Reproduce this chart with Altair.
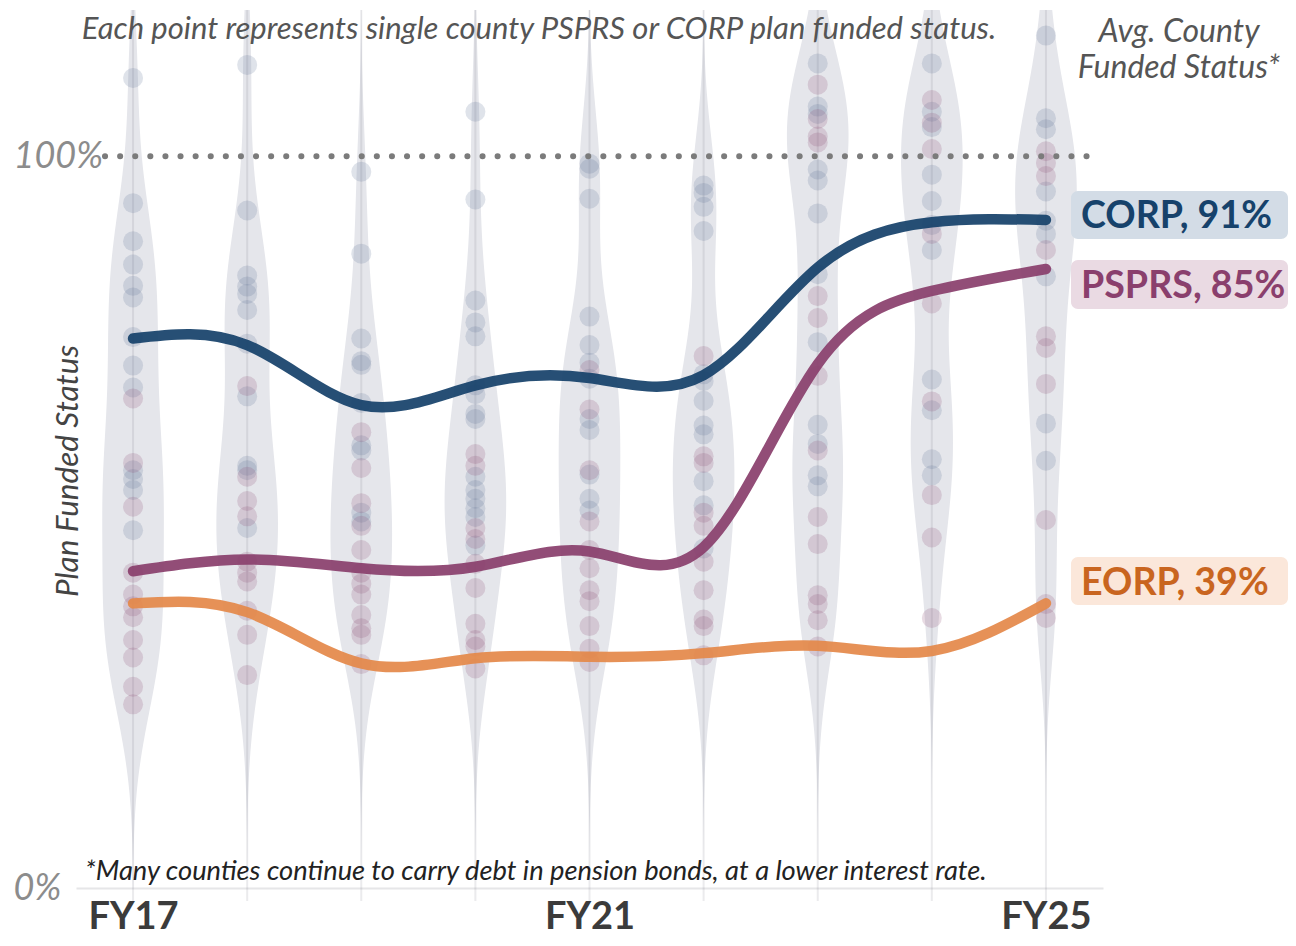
import altair as alt
import pandas as pd

years = ["FY17", "FY18", "FY19", "FY20", "FY21", "FY22", "FY23", "FY24", "FY25"]

# county plan funded status (%), one list per fiscal year
corp_points = [
    [110.7, 93.6, 88.4, 85.2, 82.3, 80.7, 75.3, 71.4, 68.4, 57.1, 55.9, 54.4, 48.9],
    [112.5, 92.6, 83.7, 82.2, 81.2, 79.0, 74.4, 67.2, 57.7, 57.1, 49.2],
    [97.9, 86.7, 75.1, 72.0, 71.5, 66.3, 60.5, 59.8, 51.3, 50.1],
    [106.1, 94.1, 80.3, 77.3, 75.4, 68.7, 67.5, 64.8, 64.1, 56.2, 54.4, 53.2, 51.9, 50.7, 46.8],
    [99.0, 98.3, 94.2, 78.1, 74.2, 71.8, 69.6, 64.1, 62.6, 56.5, 53.2, 51.6],
    [96.0, 95.0, 93.1, 89.8, 70.2, 69.3, 66.6, 63.2, 62.0, 55.6, 52.3, 46.4],
    [112.7, 106.8, 105.8, 98.2, 96.7, 92.2, 83.9, 74.6, 63.3, 60.7, 56.4, 54.9],
    [112.7, 106.1, 104.0, 97.5, 93.9, 90.6, 87.2, 69.5, 65.3, 58.6, 56.4],
    [116.5, 105.2, 103.7, 95.2, 91.2, 89.4, 83.6, 63.5, 58.4],
]
psprs_points = [
    [66.9, 58.1, 52.1, 43.1, 40.1, 38.5, 37.0, 33.9, 31.5, 27.5, 25.1],
    [68.6, 56.2, 52.9, 50.8, 44.6, 43.1, 41.9, 37.9, 34.6, 29.1],
    [62.3, 57.4, 52.6, 49.5, 46.2, 43.1, 41.6, 40.1, 37.3, 35.5, 34.6, 30.6],
    [59.3, 57.7, 49.2, 47.7, 44.3, 41.0, 36.1, 33.9, 33.0, 30.0],
    [70.8, 65.4, 57.1, 50.1, 46.2, 43.7, 40.7, 39.2, 35.8, 32.7, 30.9],
    [72.7, 59.0, 58.1, 51.3, 49.5, 44.6, 40.7, 36.7, 35.8, 31.8],
    [109.8, 105.1, 102.7, 101.9, 80.9, 77.9, 70.0, 59.8, 50.7, 47.0, 40.0, 38.8, 36.6, 33.0],
    [107.7, 104.6, 101.0, 89.4, 79.9, 66.5, 53.7, 47.9, 36.9],
    [100.7, 99.1, 97.3, 87.2, 75.4, 73.8, 68.9, 50.3, 38.8, 36.9],
]

# average county funded status (%)
corp_avg = [75.1, 74.2, 66.0, 68.7, 69.7, 70.1, 84.8, 91.0, 91.3]
psprs_avg = [43.3, 44.9, 43.7, 43.9, 46.0, 46.6, 71.6, 81.6, 84.6]
eorp_avg = [38.9, 37.7, 30.7, 31.4, 31.6, 32.1, 33.1, 32.4, 38.9]

FONT = "Lato"

# ---- tables built from the arrays ----
rows = []
for i, yr in enumerate(years):
    for v in corp_points[i]:
        rows.append({"xi": i, "year": yr, "value": v, "plan": "CORP"})
    for v in psprs_points[i]:
        rows.append({"xi": i, "year": yr, "value": v, "plan": "PSPRS"})
pts = pd.DataFrame(rows)

line_rows = []
for plan, arr in [("CORP", corp_avg), ("PSPRS", psprs_avg), ("EORP", eorp_avg)]:
    for i, v in enumerate(arr):
        line_rows.append({"xi": i, "year": years[i], "value": v, "plan": plan})
lines_df = pd.DataFrame(line_rows)

years_df = pd.DataFrame({"xi": list(range(len(years))), "year": years})

label_expr = "[" + ",".join("'%s'" % y for y in years) + "][datum.value]"

xscale = alt.Scale(domain=[-0.5, len(years) - 0.5], nice=False, zero=False)
yscale = alt.Scale(domain=[0, 120], nice=False, zero=True)

xaxis = alt.Axis(
    values=[0, 4, 8], labelExpr=label_expr, grid=False, ticks=False,
    domainColor="#e6e6e8", domainWidth=2, labelFont=FONT, labelFontSize=38,
    labelFontWeight="bold", labelColor="#3b3b3b", labelPadding=40,
    labelBaseline="alphabetic", labelFlush=False, title=None,
)
yaxis = alt.Axis(
    values=[0, 100], labelExpr="datum.value + '%'", grid=False, ticks=False,
    domain=False, labelFont=FONT, labelFontSize=36, labelFontStyle="italic",
    labelColor="#8c8c8c", labelAlign="left", labelPadding=63,
    labelBaseline="middle", title=None,
)

def X(field, **kw):
    return alt.X(field, scale=xscale, axis=xaxis, **kw)

def Y(field, **kw):
    return alt.Y(field, scale=yscale, axis=yaxis, **kw)

violin = alt.Chart(pts).transform_density(
    density="value", groupby=["xi"], extent=[0, 120], bandwidth=9, steps=241,
    as_=["value", "density"],
).transform_joinaggregate(
    dmax="max(density)", groupby=["xi"]
).transform_calculate(
    lo="datum.xi - 0.27 * datum.density / datum.dmax",
    hi="datum.xi + 0.27 * datum.density / datum.dmax",
).mark_area(orient="horizontal", color="#e5e6eb", interpolate="monotone").encode(
    y=Y("value:Q"), x=X("lo:Q"), x2="hi:Q", detail="xi:N"
)

grid = alt.Chart(years_df).mark_rule(color="#585a68", opacity=0.12, strokeWidth=2).encode(
    x=X("xi:Q"), y=alt.value(0), y2=alt.value(891)
)

ref = alt.Chart(pd.DataFrame({"v": [100]})).mark_rule(
    color="#7b7b7b", strokeWidth=6, strokeCap="round", strokeDash=[0.1, 15]
).encode(x=alt.datum(-0.246), x2=alt.datum(8.40), y=Y("v:Q"))

points = alt.Chart(pts).mark_circle(size=400, opacity=0.2).encode(
    x=X("xi:Q"), y=Y("value:Q"),
    fill=alt.Fill("plan:N", scale=alt.Scale(domain=["CORP", "PSPRS"], range=["#5f7396", "#8c4b73"]), legend=None),
)

lines = alt.Chart(lines_df).mark_line(
    interpolate="natural", strokeWidth=10.5, strokeCap="round", opacity=0.93
).encode(
    x=X("xi:Q"), y=Y("value:Q"),
    stroke=alt.Stroke("plan:N", scale=alt.Scale(domain=["CORP", "PSPRS", "EORP"], range=["#17426b", "#8a3f6d", "#e4894a"]), legend=None),
    detail="plan:N",
)

def txt(text, x, y, size, color, **kw):
    return alt.Chart(pd.DataFrame({"t": [0]})).mark_text(
        font=FONT, fontSize=size, color=color, **kw
    ).encode(x=alt.value(x), y=alt.value(y), text=alt.value(text))

top_note = txt("Each point represents single county PSPRS or CORP plan funded status.",
               463, 29, 31, "#555555", fontStyle="italic", align="center", baseline="alphabetic")
avg_note = txt(["Avg. County", "Funded Status*"], 1103, 32, 32, "#555555",
               fontStyle="italic", align="center", baseline="alphabetic", lineHeight=36)
foot = txt("*Many counties continue to carry debt in pension bonds, at a lower interest rate.",
           9, 870, 27.3, "#222222", fontStyle="italic", align="left", baseline="alphabetic")
ytitle = txt("Plan Funded Status", 2, 461, 31.5, "#444444", fontStyle="italic",
             align="center", baseline="alphabetic", angle=270)

def box(y0, y1, fill):
    return alt.Chart(pd.DataFrame({"t": [0]})).mark_rect(fill=fill, cornerRadius=7).encode(
        x=alt.value(995), x2=alt.value(1212), y=alt.value(y0), y2=alt.value(y1)
    )

labels = []
for plan, arr, y0, y1, base, fill, col in [
    ("CORP", corp_avg, 181, 229, 218, "#d3dce6", "#16426b"),
    ("PSPRS", psprs_avg, 250, 299, 288, "#eadae3", "#8a3f6d"),
    ("EORP", eorp_avg, 547, 595, 585, "#fbe7da", "#c9651f"),
]:
    labels.append(box(y0, y1, fill))
    labels.append(txt("%s, %d%%" % (plan, round(arr[-1])), 1005, base, 37.6, col,
                      fontWeight="bold", align="left", baseline="alphabetic"))

chart = alt.layer(
    violin, grid, points, ref, lines, top_note, avg_note, foot, ytitle, *labels
).properties(
    width=1027, height=878,
    padding={"left": 68, "top": 2, "right": 185, "bottom": 50},
    autosize=alt.AutoSizeParams(type="none"),
    background="white",
).configure_view(stroke=None)

chart.save("out.html", embed_options={"renderer": "svg", "actions": False})
